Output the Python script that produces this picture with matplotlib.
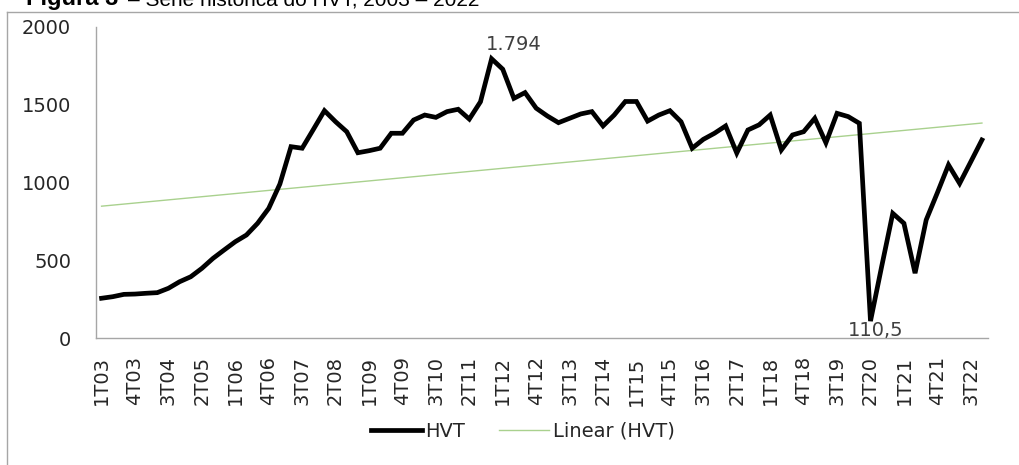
import numpy as np
import matplotlib
matplotlib.use("Agg")
import matplotlib.pyplot as plt
from matplotlib.lines import Line2D

# ---- data ----
years = list(range(3, 23))
categories = [f"{q}T{y:02d}" for y in years for q in (1, 2, 3, 4)]
hvt = [257, 267, 282, 284, 289, 293, 321, 363, 395, 449,
       513, 567, 620, 663, 738, 834, 990, 1230, 1220, 1340,
       1461, 1390, 1326, 1191, 1204, 1220, 1316, 1316, 1401, 1433,
       1418, 1455, 1470, 1407, 1518, 1794, 1727, 1540, 1577, 1477,
       1427, 1384, 1412, 1440, 1455, 1363, 1433, 1520, 1520, 1394,
       1433, 1461, 1390, 1220, 1277, 1316, 1363, 1189, 1337, 1370,
       1433, 1209, 1305, 1326, 1412, 1255, 1444, 1423, 1380, 110.5,
       460, 802, 738, 418, 760, 934, 1113, 994, 1133, 1273]
tick_labels = ["1T03", "4T03", "3T04", "2T05", "1T06", "4T06", "3T07", "2T08",
               "1T09", "4T09", "3T10", "2T11", "1T12", "4T12", "3T13", "2T14",
               "1T15", "4T15", "3T16", "2T17", "1T18", "4T18", "3T19", "2T20",
               "1T21", "4T21", "3T22"]
y_ticks = [0, 500, 1000, 1500, 2000]
title_bold = "Figura 3"
title_rest = "– Série histórica do HVT, 2003 – 2022"
label_max = "1.794"
label_min = "110,5"

W, H = 1019, 465
fig = plt.figure(figsize=(W / 100, H / 100), dpi=100)
plt.rcParams['font.family'] = ['DejaVu Sans']

# chart frame (left and top edges visible)
fig.add_artist(Line2D([7 / W, 7 / W], [0, 1 - 12 / H], transform=fig.transFigure,
                      color="#a6a6a6", lw=1.0))
fig.add_artist(Line2D([7 / W, 1], [1 - 12 / H, 1 - 12 / H], transform=fig.transFigure,
                      color="#a6a6a6", lw=1.0))

# title (clipped at top, as in the reference)
fig.text(118 / W, 1 - 5 / H, title_bold, fontsize=17, fontweight="bold",
         family="Liberation Sans", va="baseline", ha="right", color="black")
fig.text(128 / W, 1 - 5 / H, title_rest, fontsize=15,
         family="Liberation Sans", va="baseline", ha="left", color="black")

left, right = 96 / W, 987.5 / W
bottom, top = (H - 338.3) / H, (H - 26.7) / H
ax = fig.add_axes([left, bottom, right - left, top - bottom])

x = np.arange(len(hvt))
y = np.array(hvt, dtype=float)
ax.plot(x, y, color="black", lw=3.4, solid_joinstyle="miter", label="HVT", zorder=3)

coef = np.polyfit(x + 1, y, 1)
trend = np.polyval(coef, x + 1)
ax.plot(x, trend, color="#a9d18e", lw=1.0, label="Linear (HVT)", zorder=2)

ax.set_xlim(-0.5, len(hvt) - 0.5)
ax.set_ylim(0, 2000)
ax.set_yticks(y_ticks)
ax.set_yticklabels([str(v) for v in y_ticks])
tick_pos = [categories.index(t) for t in tick_labels]
ax.set_xticks(tick_pos)
ax.set_xticklabels(tick_labels, rotation=90)

ax.tick_params(axis="y", length=0, pad=18, labelsize=14, labelcolor="#262626")
ax.tick_params(axis="x", length=0, pad=13, labelsize=14, labelcolor="#262626")
for s in ("top", "right"):
    ax.spines[s].set_visible(False)
for s in ("left", "bottom"):
    ax.spines[s].set_color("#a6a6a6")
    ax.spines[s].set_linewidth(1.0)

imax = int(np.argmax(y))
imin = int(np.argmin(y))
ax.annotate(label_max, (x[imax], y[imax]), xytext=(22, 14), textcoords="offset pixels",
            ha="center", va="center", fontsize=14, color="#404040")
ax.annotate(label_min, (x[imin], y[imin]), xytext=(5, -9), textcoords="offset pixels",
            ha="center", va="center", fontsize=14, color="#404040")

leg = fig.legend(handles=ax.get_lines(), loc="center", bbox_to_anchor=(523 / W, 1 - 431 / H),
                 ncol=2, frameon=False, fontsize=14, handlelength=2.6, handletextpad=0.2,
                 columnspacing=1.7, labelcolor="#262626")

fig.savefig("out.png", dpi=100)
